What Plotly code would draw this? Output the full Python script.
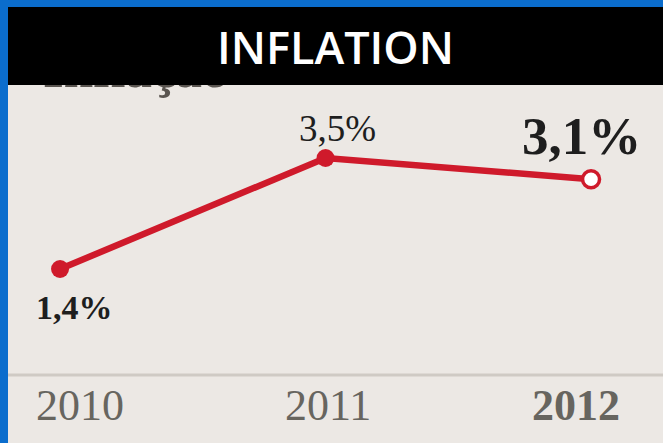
import plotly.graph_objects as go

years = [2010, 2011, 2012]
inflation = [1.4, 3.5, 3.1]
value_labels = ["<b>1,4%</b>", "3,5%", "<b>3,1%</b>"]
year_labels = ["2010", "2011", "<b>2012</b>"]
title_text = "INFLATION"
cut_text = "<b>Inflação</b>"

RED = "#cf1a2b"
BG = "#ece8e4"

fig = go.Figure()
fig.add_trace(go.Scatter(
    x=years, y=inflation, mode="lines",
    line=dict(color=RED, width=6.5),
    hoverinfo="skip", cliponaxis=False,
))
fig.add_trace(go.Scatter(
    x=years, y=inflation, mode="markers",
    marker=dict(size=[18, 18, 17], color=[RED, RED, "white"], opacity=1,
                line=dict(color=RED, width=[0, 0, 3.5])),
    hoverinfo="skip", cliponaxis=False,
))

# value labels
lab_cfg = [
    dict(xshift=14, yshift=-38, size=34),
    dict(xshift=12, yshift=30, size=37),
    dict(xshift=-10, yshift=43, size=53),
]
for x, y, t, c in zip(years, inflation, value_labels, lab_cfg):
    fig.add_annotation(x=x, y=y, text=t, showarrow=False,
                       xshift=c["xshift"], yshift=c["yshift"],
                       xanchor="center", yanchor="middle",
                       font=dict(family="Liberation Serif", size=c["size"], color="#1e1e1e"))

# year labels
year_shift = [20, 2, -15]
for x, t, s in zip(years, year_labels, year_shift):
    fig.add_annotation(x=x, y=0.085, yref="paper", text=t, showarrow=False,
                       xshift=s, xanchor="center", yanchor="middle",
                       font=dict(family="Liberation Serif", size=44, color="#67655f"))

# baseline
fig.add_shape(type="line", xref="paper", yref="paper", x0=0, x1=1, y0=0.156, y1=0.156,
              line=dict(color="#cfcac4", width=3))

# cut-off subtitle under the title bar
fig.add_annotation(xref="paper", yref="paper", x=0.05, y=0.787, xanchor="left", yanchor="bottom",
                   text=cut_text, showarrow=False,
                   font=dict(family="Liberation Serif", size=53, color="#5a5550"))

# title bar
fig.add_annotation(xref="paper", yref="paper", x=0, y=1, xanchor="left", yanchor="top",
                   text=title_text, showarrow=False, width=655, height=78,
                   bgcolor="black", borderpad=0, borderwidth=0, align="center",
                   font=dict(family="Open Sans", size=45, weight=600, color="white"))

fig.update_layout(
    width=663, height=443,
    margin=dict(l=8, r=0, t=7, b=0),
    paper_bgcolor="#0b6dcd", plot_bgcolor=BG,
    showlegend=False,
    xaxis=dict(range=[2009.804, 2012.271], visible=False, fixedrange=True),
    yaxis=dict(range=[-1.892, 6.357], visible=False, fixedrange=True),
)

fig.write_html("out.html", config={"displayModeBar": False})
